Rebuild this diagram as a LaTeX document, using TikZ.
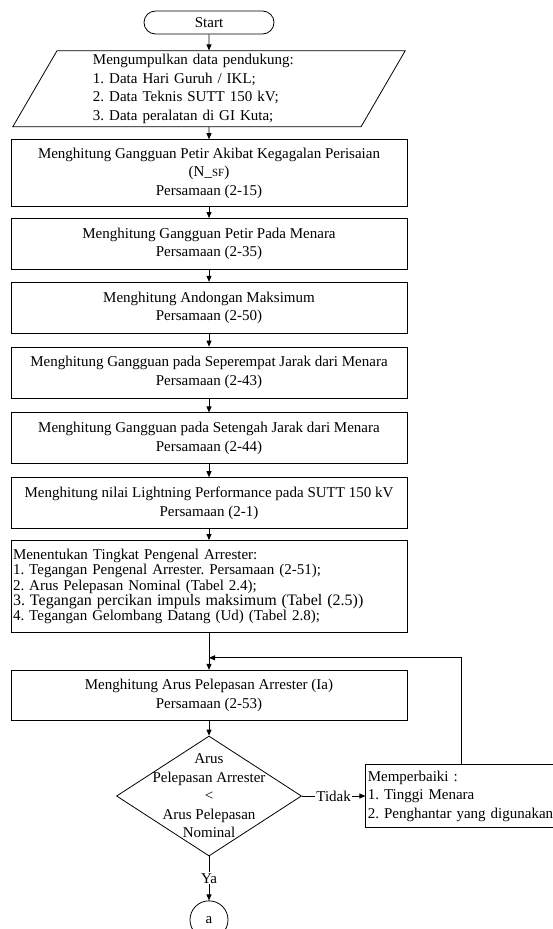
\documentclass[tikz,border=0pt]{standalone}
\usepackage{fontspec}
\setmainfont{Liberation Serif}
\usetikzlibrary{arrows.meta,positioning,shapes.geometric}
\frenchspacing

\begin{document}
\begin{tikzpicture}[
  x=1pt,y=1pt,
  node distance=12pt,
  line width=0.8pt,
  font=\fontsize{15}{18.5}\selectfont,
  termbox/.style={draw,rounded corners=11.5pt,minimum width=130pt,minimum height=23pt,inner sep=0pt},
  iobox/.style={draw,trapezium,trapezium left angle=64,trapezium right angle=116,trapezium stretches=true,minimum width=394pt,minimum height=76pt,text width=232pt,align=left,inner sep=0pt},
  procbox/.style={draw,align=center,minimum width=396pt,minimum height=51pt,inner sep=2pt},
  listbox/.style={draw,align=left,text width=392pt,minimum height=92pt,inner sep=2pt,font=\fontsize{15}{15.3}\selectfont},
  fixbox/.style={draw,align=left,text width=188pt,minimum height=63pt,inner sep=2pt},
  decbox/.style={draw,diamond,minimum width=185pt,minimum height=120pt,inner sep=0pt},
  connbox/.style={draw,circle,minimum size=38pt,inner sep=0pt},
  edgetext/.style={fill=white,inner sep=1pt},
  arr/.style={-{Triangle[length=6pt,width=5pt]}}
]
\useasboundingbox (0,0) rectangle (553,-929);
\node[termbox] (start) at (209,-22.5) {Start};
\node[iobox,below=16pt of start] (input) {Mengumpulkan data pendukung:\\1. Data Hari Guruh / IKL;\\2. Data Teknis SUTT 150 kV;\\3. Data peralatan di GI Kuta;};
\node[procbox,minimum height=67pt,below=of input] (nsf) {Menghitung Gangguan Petir Akibat Kegagalan Perisaian\\(N\_{\fontsize{11}{11}\selectfont SF})\\Persamaan (2-15)};
\node[procbox,below=11pt of nsf] (menara) {Menghitung Gangguan Petir Pada Menara\\Persamaan (2-35)};
\node[procbox,below=of menara] (andongan) {Menghitung Andongan Maksimum\\Persamaan (2-50)};
\node[procbox,below=13pt of andongan] (seperempat) {Menghitung Gangguan pada Seperempat Jarak dari Menara\\Persamaan (2-43)};
\node[procbox,below=14pt of seperempat] (setengah) {Menghitung Gangguan pada Setengah Jarak dari Menara\\Persamaan (2-44)};
\node[procbox,below=13pt of setengah] (lp) {Menghitung nilai Lightning Performance pada SUTT 150 kV\\Persamaan (2-1)};
\node[listbox,below=11pt of lp] (pengenal) {Menentukan Tingkat Pengenal Arrester:\\1. Tegangan Pengenal Arrester. Persamaan (2-51);\\2. Arus Pelepasan Nominal (Tabel 2.4);\\{\fontsize{16}{15.3}\selectfont 3. Tegangan percikan impuls maksimum (Tabel (2.5))}\\4. Tegangan Gelombang Datang (Ud) (Tabel 2.8);};
\coordinate[below=25pt of pengenal] (balik);
\node[procbox,minimum height=50pt,below=37pt of pengenal] (ia) {Menghitung Arus Pelepasan Arrester (Ia)\\Persamaan (2-53)};
\node[decbox,below=15pt of ia,label={[align=center]center:{Arus\\Pelepasan Arrester\\<\\Arus Pelepasan\\Nominal}}] (cek) {};
\node[fixbox,right=63.5pt of cek] (perbaiki) {Memperbaiki :\\1. Tinggi Menara\\2. Penghantar yang digunakan};
\node[connbox,below=44pt of cek] (a) {a};

\draw[arr] (start) -- (input);
\draw[arr] (input) -- (nsf);
\draw[arr] (nsf) -- (menara);
\draw[arr] (menara) -- (andongan);
\draw[arr] (andongan) -- (seperempat);
\draw[arr] (seperempat) -- (setengah);
\draw[arr] (setengah) -- (lp);
\draw[arr] (lp) -- (pengenal);
\draw[arr] (pengenal) -- (ia);
\draw[arr] (ia) -- (cek);
\draw[arr] (cek.east) -- node[edgetext] {Tidak} (cek.east -| perbaiki.west);
\draw[arr] (perbaiki.north) |- (balik);
\draw[arr] (cek) -- node[edgetext] {Ya} (a);
\end{tikzpicture}
\end{document}
